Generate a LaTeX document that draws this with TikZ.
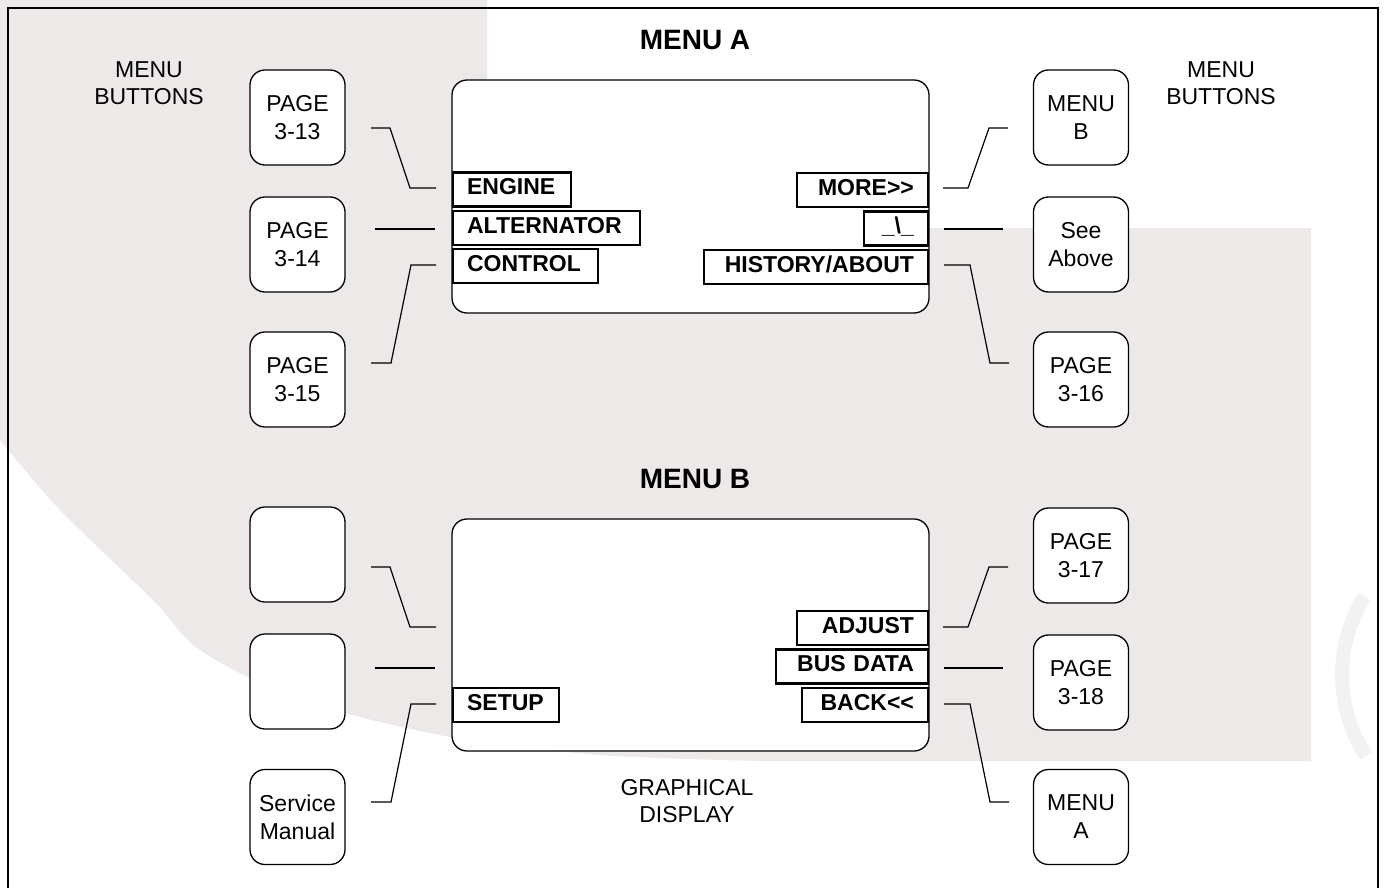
\documentclass[tikz,border=0pt]{standalone}
\usepackage{fontspec}
\setmainfont{Liberation Sans}
\definecolor{wm}{RGB}{236,233,232}
\definecolor{wmring}{RGB}{243,241,241}
\begin{document}
\begin{tikzpicture}[x=1pt,y=-1pt,
  btn/.style={draw, line width=1.3pt, rounded corners=15pt, fill=white,
    minimum width=95pt, minimum height=95pt, inner sep=0pt, align=center,
    font=\fontsize{23}{28}\selectfont},
  lblbox/.style={draw, line width=2.2pt, fill=white, minimum height=34pt,
    inner ysep=0pt, inner xsep=14pt, text height=17pt, text depth=7pt,
    font=\bfseries\fontsize{23}{28}\selectfont},
  lblL/.style={lblbox, anchor=west, align=left, text width=#1-28pt},
  lblR/.style={lblbox, anchor=east, align=right, text width=#1-28pt},
  disp/.style={draw, line width=1.3pt, rounded corners=15pt, fill=white,
    minimum width=477pt, inner sep=0pt},
  conn/.style={line width=1.2pt},
  title/.style={font=\bfseries\fontsize{28}{30}\selectfont, anchor=base},
  note/.style={font=\fontsize{23}{27}\selectfont, align=center, inner sep=0pt}
]
\clip (0,0) rectangle (1384,888);
% faint watermark
\fill[wm] (0,0) -- (487,0) -- (487,100) -- (929,100) -- (929,228) -- (1311,228)
  -- (1311,761) -- plot[smooth] coordinates {(760,761) (600,755) (450,737) (300,700) (200,650) (153,600) (60,510) (0,440)} -- cycle;
\draw[wmring, line width=14pt] (1490,675) ++(147:148) arc[start angle=147, end angle=212, radius=148];
% frame
\draw[line width=2pt] (8,8) rectangle (1378,900);

% titles and notes
\node[title] (tA) at (695,50) {MENU A};
\node[title] (tB) at (695,488) {MENU B};
\node[note] (mbL) at (149,83.5) {MENU\\BUTTONS};
\node[note] (mbR) at (1221,83.5) {MENU\\BUTTONS};
\node[note] (gd) at (687,801.5) {GRAPHICAL\\DISPLAY};

% displays
\node[disp, minimum height=233pt] (dA) at (690.5,196.5) {};
\node[disp, minimum height=232pt] (dB) at (690.5,635) {};

% buttons left
\node[btn] (bL1) at (297.5,117.5) {PAGE\\3-13};
\node[btn] (bL2) at (297.5,244.5) {PAGE\\3-14};
\node[btn] (bL3) at (297.5,379.5) {PAGE\\3-15};
\node[btn] (bL4) at (297.5,554.5) {};
\node[btn] (bL5) at (297.5,681.5) {};
\node[btn] (bL6) at (297.5,817) {Service\\Manual};
% buttons right
\node[btn] (bR1) at (1081,117.5) {MENU\\B};
\node[btn] (bR2) at (1081,244.5) {See\\Above};
\node[btn] (bR3) at (1081,379.5) {PAGE\\3-16};
\node[btn] (bR4) at (1081,555.5) {PAGE\\3-17};
\node[btn] (bR5) at (1081,682.5) {PAGE\\3-18};
\node[btn] (bR6) at (1081,817) {MENU\\A};

% labels menu A
\node[lblL=118pt] (eng) at (452,189.5) {ENGINE};
\node[lblL=187pt] (alt) at (452,228) {ALTERNATOR};
\node[lblL=145pt] (ctl) at (452,266) {CONTROL};
\node[lblR=131pt] (more) at (929,190) {MORE>\kern0pt>};
\node[lblR=64pt] (sym) at (929,228.5) {\_\textbackslash\_};
\node[lblR=224pt] (hist) at (929,267) {HISTORY/ABOUT};
% labels menu B
\node[lblR=131pt] (adj) at (929,628) {ADJUST};
\node[lblR=152pt] (bus) at (929,666.5) {BUS DATA};
\node[lblR=126pt] (back) at (929,705) {BACK<\kern0pt<};
\node[lblL=106pt] (setup) at (452,705) {SETUP};

% connector end points
\coordinate (cL1a) at (371,128);  \coordinate (cL1b) at (436,188);
\coordinate (cL2a) at (375,229);  \coordinate (cL2b) at (435,229);
\coordinate (cL3a) at (371,363);  \coordinate (cL3b) at (436,265);
\coordinate (cR1a) at (1008,128); \coordinate (cR1b) at (943,188);
\coordinate (cR2a) at (1003,229); \coordinate (cR2b) at (944,229);
\coordinate (cR3a) at (1009,363); \coordinate (cR3b) at (944,265);
\coordinate (cL4a) at (371,567);  \coordinate (cL4b) at (436,627);
\coordinate (cL5a) at (375,668);  \coordinate (cL5b) at (435,668);
\coordinate (cL6a) at (371,802);  \coordinate (cL6b) at (436,704);
\coordinate (cR4a) at (1008,567); \coordinate (cR4b) at (943,627);
\coordinate (cR5a) at (1003,668); \coordinate (cR5b) at (944,668);
\coordinate (cR6a) at (1009,802); \coordinate (cR6b) at (944,704);

% connectors menu A
\draw[conn] (cL1a) -- (390,128) -- (410,188) -- (cL1b);
\draw[conn] (cL2a) -- (cL2b);
\draw[conn] (cL3a) -- (391,363) -- (411,265) -- (cL3b);
\draw[conn] (cR1b) -- (968,188) -- (989,128) -- (cR1a);
\draw[conn] (cR2b) -- (cR2a);
\draw[conn] (cR3b) -- (970,265) -- (990,363) -- (cR3a);
% connectors menu B
\draw[conn] (cL4a) -- (390,567) -- (410,627) -- (cL4b);
\draw[conn] (cL5a) -- (cL5b);
\draw[conn] (cL6a) -- (391,802) -- (411,704) -- (cL6b);
\draw[conn] (cR4b) -- (968,627) -- (989,567) -- (cR4a);
\draw[conn] (cR5b) -- (cR5a);
\draw[conn] (cR6b) -- (970,704) -- (990,802) -- (cR6a);
\end{tikzpicture}
\end{document}
